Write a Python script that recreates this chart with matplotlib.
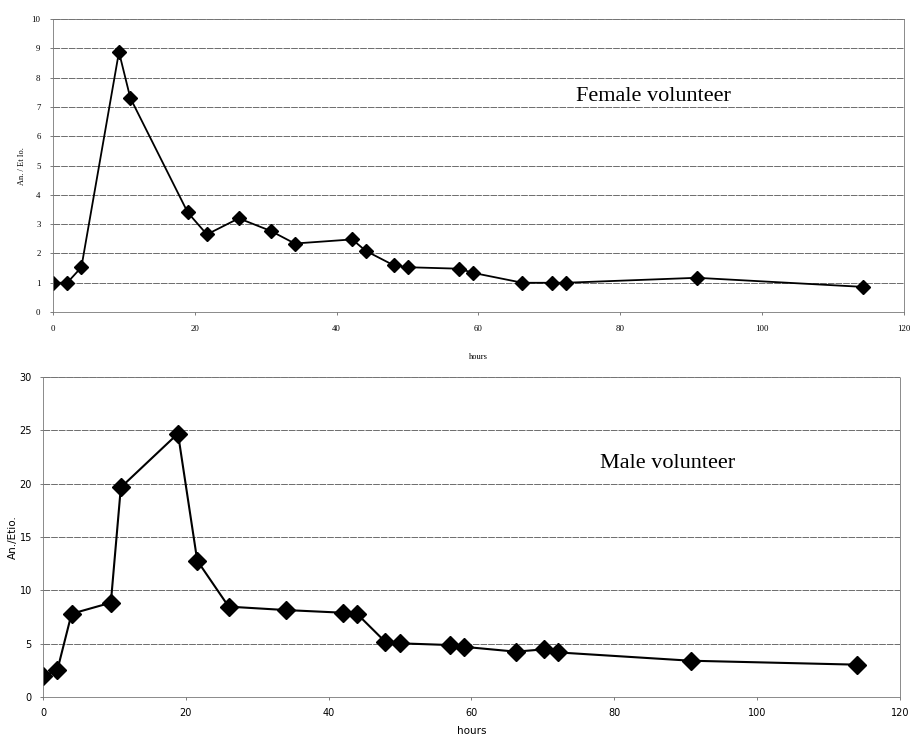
import matplotlib.pyplot as plt

# Female volunteer
female_hours = [0, 2, 4, 9.3, 10.9, 19, 21.7, 26.2, 30.7, 34.1, 42.2, 44.1,
                48.1, 50.1, 57.3, 59.2, 66.2, 70.4, 72.3, 90.8, 114.2]
female_ratio = [1.0, 1.0, 1.53, 8.88, 7.31, 3.40, 2.65, 3.20, 2.77, 2.34, 2.48,
                2.09, 1.59, 1.53, 1.48, 1.34, 1.0, 1.0, 1.0, 1.17, 0.86]

# Male volunteer
male_hours = [0, 2, 4, 9.5, 10.9, 18.9, 21.6, 26, 34, 42, 44, 47.9, 50, 57,
              59, 66.2, 70.2, 72.1, 90.7, 114]
male_ratio = [1.97, 2.5, 7.8, 8.84, 19.65, 24.7, 12.78, 8.47, 8.15, 7.9, 7.78,
              5.19, 5.03, 4.87, 4.7, 4.25, 4.47, 4.18, 3.4, 3.03]

top_yticks = list(range(0, 11))
bottom_yticks = [0, 5, 10, 15, 20, 25, 30]
xticks = [0, 20, 40, 60, 80, 100, 120]

fig = plt.figure(figsize=(9.11, 7.36), dpi=100)
ax1 = fig.add_axes([0.0582, 0.576, 0.934, 0.398])
ax2 = fig.add_axes([0.0472, 0.053, 0.9407, 0.4348])


def style_axes(ax):
    ax.grid(axis="y", color="#555555", linestyle=(0, (8, 1.2)), linewidth=0.6)
    for side in ["left", "right", "top", "bottom"]:
        ax.spines[side].set_color("#777777")
        ax.spines[side].set_linestyle((0, (2, 1)))
        ax.spines[side].set_linewidth(0.6)
    ax.set_axisbelow(True)
    ax.tick_params(length=2, width=0.6, color="#666666", pad=8)


# Top panel
ax1.plot(female_hours, female_ratio, color="black", linewidth=1.3,
         marker="D", markersize=7.5)
ax1.set_xlim(0, 120)
ax1.set_ylim(0, 10)
ax1.set_xticks(xticks)
ax1.set_yticks(top_yticks)
style_axes(ax1)
ax1.tick_params(pad=7)
for lbl in ax1.get_xticklabels() + ax1.get_yticklabels():
    lbl.set_fontfamily("Liberation Serif")
    lbl.set_fontsize(6.3)
ax1.set_ylabel("An. / Et Io.", fontfamily="Liberation Serif", fontsize=6,
               labelpad=4)
ax1.set_xlabel("hours", fontfamily="Liberation Serif", fontsize=6, labelpad=15)
ax1.text(0.615, 0.735, "Female volunteer", transform=ax1.transAxes,
         fontfamily="Liberation Serif", fontsize=16, va="center")

# Bottom panel
ax2.plot(male_hours, male_ratio, color="black", linewidth=1.5,
         marker="D", markersize=9)
ax2.set_xlim(0, 120)
ax2.set_ylim(0, 30)
ax2.set_xticks(xticks)
ax2.set_yticks(bottom_yticks)
style_axes(ax2)
ax2.tick_params(labelsize=7, pad=6)
ax2.set_ylabel("An./Etio.", fontsize=7.5, labelpad=1)
ax2.set_xlabel("hours", fontsize=7.5, labelpad=6)
ax2.text(0.65, 0.73, "Male volunteer", transform=ax2.transAxes,
         fontfamily="Liberation Serif", fontsize=16, va="center")

fig.savefig("out.png", dpi=100)
